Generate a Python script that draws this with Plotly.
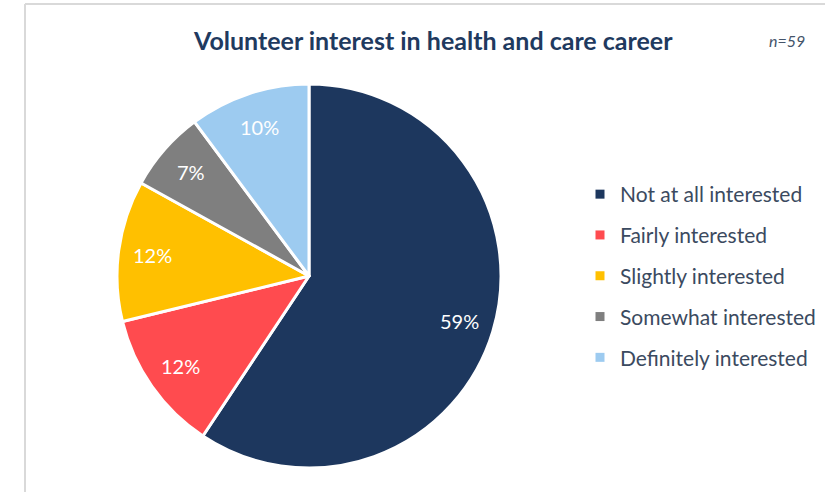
import math
import plotly.graph_objects as go

# Survey responses (n=59)
categories = [
    "Not at all interested",
    "Fairly interested",
    "Slightly interested",
    "Somewhat interested",
    "Definitely interested",
]
counts = [35, 7, 7, 4, 6]
colors = ["#1D375E", "#FF4B4F", "#FFC000", "#7F7F7F", "#9DCBF0"]
sample_label = "n=59"
title_text = "Volunteer interest in health and care career"

W, H = 825, 492
FONT = "Lato, 'Open Sans', sans-serif"

# Pie placement in pixels
CX, CY, R = 309, 276, 192
LABEL_R = 0.82  # percentage labels sit at this fraction of the radius

fig = go.Figure()

fig.add_trace(go.Pie(
    labels=categories,
    values=counts,
    sort=False,
    direction="clockwise",
    rotation=0,
    marker=dict(colors=colors, line=dict(color="white", width=3)),
    textinfo="none",
    showlegend=False,
    hoverinfo="label+value+percent",
    domain=dict(x=[(CX - R) / W, (CX + R) / W], y=[1 - (CY + R) / H, 1 - (CY - R) / H]),
))

# Percentage labels placed along each slice's bisector
total = sum(counts)
annotations = []
cum = 0.0
for v in counts:
    frac = v / total
    theta = 2 * math.pi * (cum + frac / 2)
    px = CX + LABEL_R * R * math.sin(theta)
    py = CY - LABEL_R * R * math.cos(theta)
    annotations.append(dict(
        text=f"{frac:.0%}", x=px / W, y=1 - py / H, xref="paper", yref="paper",
        xanchor="center", yanchor="middle", showarrow=False,
        font=dict(family=FONT, size=20, color="white"),
    ))
    cum += frac

# Legend entries, one group each so that the vertical spacing can be opened up
for name, col in zip(categories, colors):
    fig.add_trace(go.Scatter(
        x=[None], y=[None], mode="markers", name=name, legendgroup=name,
        marker=dict(symbol="square", size=9, color=col),
        hoverinfo="skip",
    ))

annotations += [
    dict(text="<b>" + title_text + "</b>", x=433 / W, y=1 - 40 / H,
         xref="paper", yref="paper", xanchor="center", yanchor="middle",
         showarrow=False, font=dict(family=FONT, size=25, color="#1F3A5F")),
    dict(text="<i>" + sample_label + "</i>", x=787 / W, y=1 - 40 / H,
         xref="paper", yref="paper", xanchor="center", yanchor="middle",
         showarrow=False, font=dict(family=FONT, size=16, color="#44546A")),
]

fig.update_layout(
    width=W, height=H,
    margin=dict(l=0, r=0, t=0, b=0),
    paper_bgcolor="white", plot_bgcolor="white",
    xaxis=dict(visible=False), yaxis=dict(visible=False),
    showlegend=True,
    legend=dict(
        x=580 / W, y=1 - 174 / H, xanchor="left", yanchor="top",
        font=dict(family=FONT, size=21, color="#3B4A60"),
        tracegroupgap=10.5, bgcolor="rgba(0,0,0,0)",
    ),
    annotations=annotations,
    shapes=[
        dict(type="line", xref="paper", yref="paper", x0=25 / W, x1=1,
             y0=1 - 4 / H, y1=1 - 4 / H, line=dict(color="#D9D9D9", width=2)),
        dict(type="line", xref="paper", yref="paper", x0=25 / W, x1=25 / W,
             y0=0, y1=1 - 4 / H, line=dict(color="#D9D9D9", width=2)),
    ],
)

fig.write_html("out.html")
